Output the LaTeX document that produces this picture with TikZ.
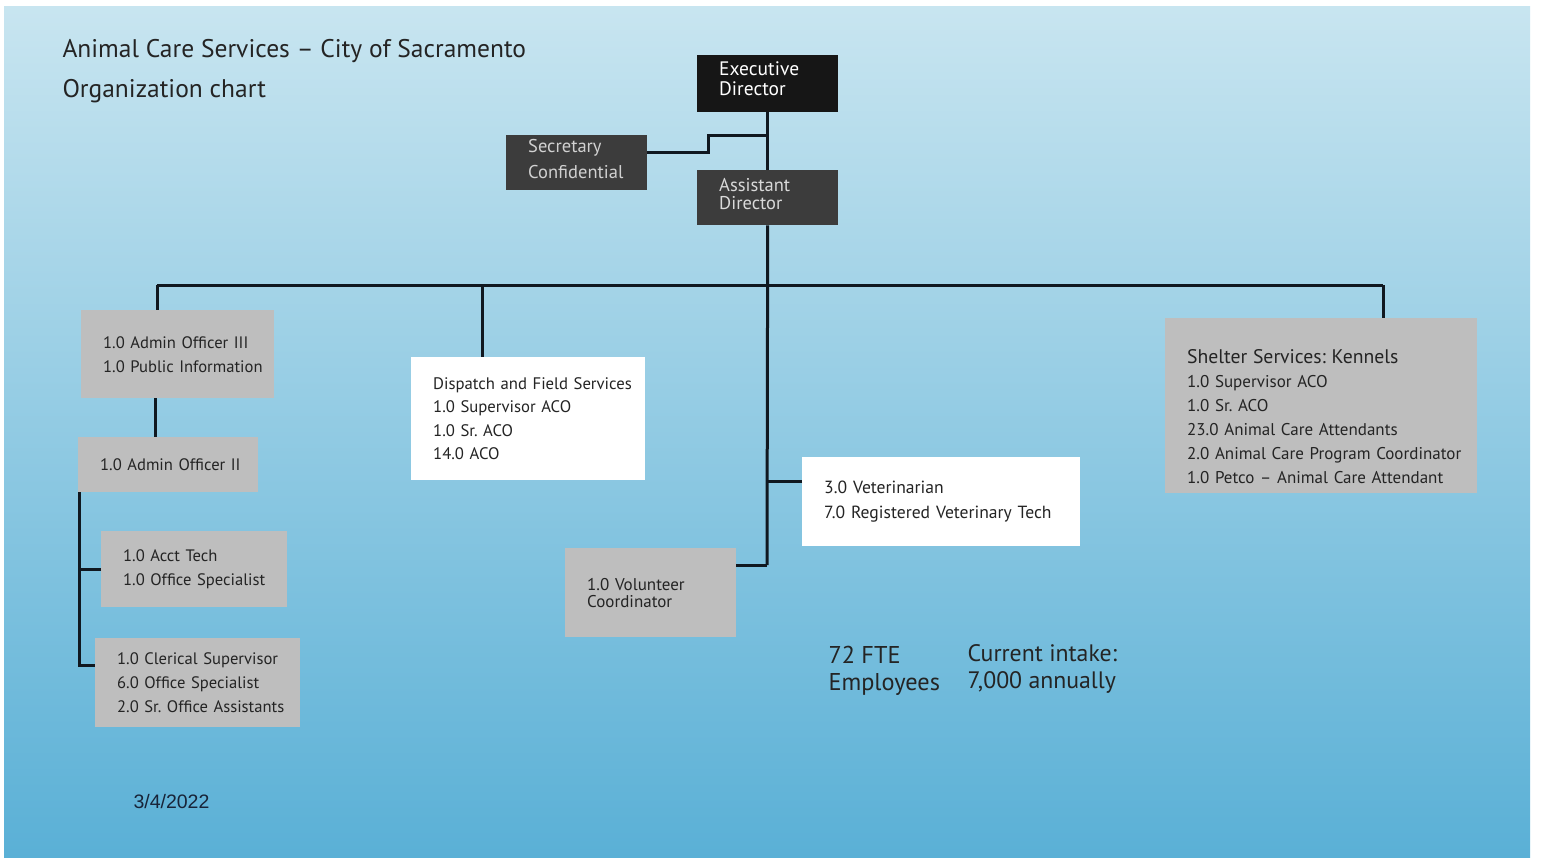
\documentclass[tikz,border=0pt]{standalone}
\usepackage{fontspec}
\setmainfont{PT Sans}
\newfontfamily\datefont{Liberation Sans}
\usetikzlibrary{positioning}
\frenchspacing

\definecolor{skytop}{RGB}{200,229,240}
\definecolor{skymid}{RGB}{130,195,222}
\definecolor{skybot}{RGB}{90,176,214}
\definecolor{execblack}{RGB}{22,22,22}
\definecolor{darkgray}{RGB}{60,60,60}
\definecolor{boxgray}{RGB}{190,190,190}
\definecolor{boxtext}{RGB}{36,36,36}
\definecolor{datetext}{RGB}{24,36,56}
\definecolor{linecol}{RGB}{16,24,32}

\begin{document}
\begin{tikzpicture}[x=1pt,y=-1pt,
  box/.style={anchor=north west,inner xsep=0pt,inner ysep=0pt,align=left,
    execute at begin node={\leftskip=22pt\relax}},
  headbox/.style={box,font=\fontsize{19.5}{20}\selectfont},
  graybox/.style={box,fill=boxgray,text=boxtext,font=\fontsize{16.6}{24}\selectfont},
  whitebox/.style={box,fill=white,text=boxtext,font=\fontsize{16.7}{23.5}\selectfont},
  link/.style={draw=linecol,line width=3pt}]

 % page and background
 \useasboundingbox (0,0) rectangle (1541,857);
 \fill[white] (0,0) rectangle (1541,857);
 \shade[top color=skytop,middle color=skymid,bottom color=skybot] (4,6) rectangle (1530,857);

 % titles
 \node[anchor=west,text=boxtext,font=\fontsize{25.5}{28}\selectfont] (title) at (59,51) {Animal Care Services – City of Sacramento};
 \node[anchor=west,text=boxtext,font=\fontsize{25.5}{28}\selectfont] (subtitle) at (59,91) {Organization chart};

 % top of the chart
 \node[headbox,fill=execblack,text=white,minimum width=141pt,minimum height=57pt,text width=141pt] (exec) at (697,55) {Executive\\Director\rule[-10pt]{0pt}{1pt}};
 \node[headbox,fill=darkgray,text=white!82!black,minimum width=141pt,minimum height=55pt,text width=141pt,font=\fontsize{18.5}{26}\selectfont] (sec) at (506,135) {Secretary\\Confidential\rule[-8pt]{0pt}{1pt}};
 \node[headbox,fill=darkgray,text=white!85!black,minimum width=141pt,minimum height=55pt,text width=141pt,font=\fontsize{18.5}{18}\selectfont] (asst) at (697,170) {Assistant\\Director\rule[-8pt]{0pt}{1pt}};

 % admin column
 \node[graybox,minimum width=193pt,minimum height=88pt,text width=193pt] (aoiii) at (81,310) {1.0 Admin Officer III\\1.0 Public Information};
 \node[graybox,minimum width=180pt,minimum height=55pt,text width=180pt] (aoii) at (78,437) {1.0 Admin Officer II};
 \node[graybox,minimum width=186pt,minimum height=76pt,text width=186pt] (acct) at (101,531) {1.0 Acct Tech\\1.0 Office Specialist};
 \node[graybox,minimum width=205pt,minimum height=89pt,text width=205pt] (cler) at (95,638) {1.0 Clerical Supervisor\\6.0 Office Specialist\\2.0 Sr. Office Assistants};

 % middle and right
 \node[whitebox,minimum width=234pt,minimum height=123pt,text width=234pt] (disp) at (411,357) {Dispatch and Field Services\\1.0 Supervisor ACO\\1.0 Sr. ACO\\14.0 ACO};
 \node[whitebox,minimum width=278pt,minimum height=89pt,text width=278pt,font=\fontsize{17.6}{25}\selectfont] (vet) at (802,457) {3.0 Veterinarian\\7.0 Registered Veterinary Tech};
 \node[graybox,minimum width=171pt,minimum height=89pt,text width=171pt,font=\fontsize{17}{17}\selectfont] (vol) at (565,548) {1.0 Volunteer\\Coordinator};
 \node[graybox,minimum width=312pt,minimum height=175pt,text width=312pt,font=\fontsize{17}{24}\selectfont] (shelter) at (1165,318) {\rule{0pt}{36pt}{\fontsize{19.7}{26}\selectfont Shelter Services: Kennels}\\1.0 Supervisor ACO\\1.0 Sr. ACO\\23.0 Animal Care Attendants\\2.0 Animal Care Program Coordinator\\1.0 Petco – Animal Care Attendant};

 % totals and date
 \node[anchor=west,align=left,text=boxtext,font=\fontsize{24.3}{27}\selectfont] (fte) at (825,671) {72 FTE\\Employees};
 \node[anchor=west,align=left,text=boxtext,font=\fontsize{23.8}{27}\selectfont] (intake) at (964,669) {Current intake:\\7,000 annually};
 \node[anchor=west,text=datetext,font=\datefont\fontsize{19.5}{20}\selectfont] (date) at (130,802) {3/4/2022};

 % bus junctions
 \coordinate (hub) at (767,285);
 \coordinate (busL) at (157,285);
 \coordinate (busD) at (482,285);
 \coordinate (busS) at (1383,285);
 \coordinate (trunk) at (767,565);

 % connectors
 \draw[link] (exec.south) -- (asst.north);
 \draw[link] ([yshift=10pt]sec.east) -- ++(61,0) |- (exec.south |- 0,135);
 \draw[link] (asst.south) -- (trunk);
 \draw[link] (busL) -- (busS);
 \draw[link] (busL) -- (busL |- aoiii.north);
 \draw[link] (busD) -- (busD |- disp.north);
 \draw[link] (busS) -- (busS |- shelter.north);
 \draw[link] ([xshift=-22pt]aoiii.south) -- ([xshift=-22pt]aoiii.south |- aoii.north);
 \draw[link] ([xshift=1pt]aoii.south west) |- ([yshift=17pt]cler.west);
 \draw[link] (acct.west) -- (acct.west -| aoii.south west);
 \draw[link] ([yshift=20pt]vet.west) -- ([yshift=20pt]vet.west -| trunk);
 \draw[link] (trunk) -- (trunk -| vol.east);
\end{tikzpicture}
\end{document}
